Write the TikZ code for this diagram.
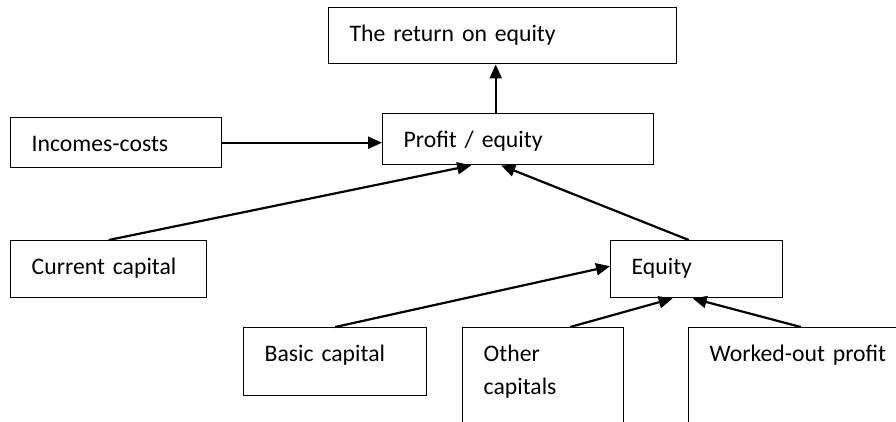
\documentclass[tikz,border=0pt]{standalone}
\usepackage{fontspec}
\setmainfont{Carlito}
\usepackage{tikz}
\usetikzlibrary{arrows.meta}

\tikzset{
  box/.style 2 args={draw,line width=1.4pt,anchor=north west,align=left,
    inner xsep=21pt,inner ysep=0pt,text width=#1pt-42pt,
    text height=34pt,text depth=#2pt-34pt},
  link/.style={->,line width=2.2pt}
}

\begin{document}
\begin{tikzpicture}[x=1pt,y=-1pt,>={Triangle[length=14pt,width=12pt]},
  font=\fontsize{23.7}{33}\selectfont]
\useasboundingbox (0,0) rectangle (896,421);
\clip (0,0) rectangle (896,421);
\node[box={348}{56}] (ret) at (328,7) {The return on equity};
\node[box={271}{51}] (profit) at (382,113) {Profit / equity};
\node[box={211}{50}] (incomes) at (10,117) {Incomes-costs};
\node[box={196}{57}] (current) at (10,240) {Current capital};
\node[box={172}{57}] (equity) at (610,240) {Equity};
\node[box={183}{68}] (basic) at (243,327) {Basic capital};
\node[box={161}{120}] (other) at (462,327) {Other\\capitals};
\node[box={240}{120}] (worked) at (688,327) {Worked-out profit};
\draw[link] ([xshift=-22.5pt]profit.north) -- ([xshift=-7pt]ret.south);
\draw[link] (incomes.east) -- (incomes.east -| profit.west);
\draw[link] (current.north) -- ([xshift=-47pt]profit.south);
\draw[link] ([xshift=-8pt]equity.north) -- ([xshift=-17pt]profit.south);
\draw[link] (basic.north) -- ([yshift=3pt]equity.west);
\draw[link] ([xshift=27pt]other.north) -- ([xshift=-24pt]equity.south);
\draw[link] ([xshift=-8pt]worked.north) -- ([xshift=-4pt]equity.south);
\end{tikzpicture}
\end{document}
